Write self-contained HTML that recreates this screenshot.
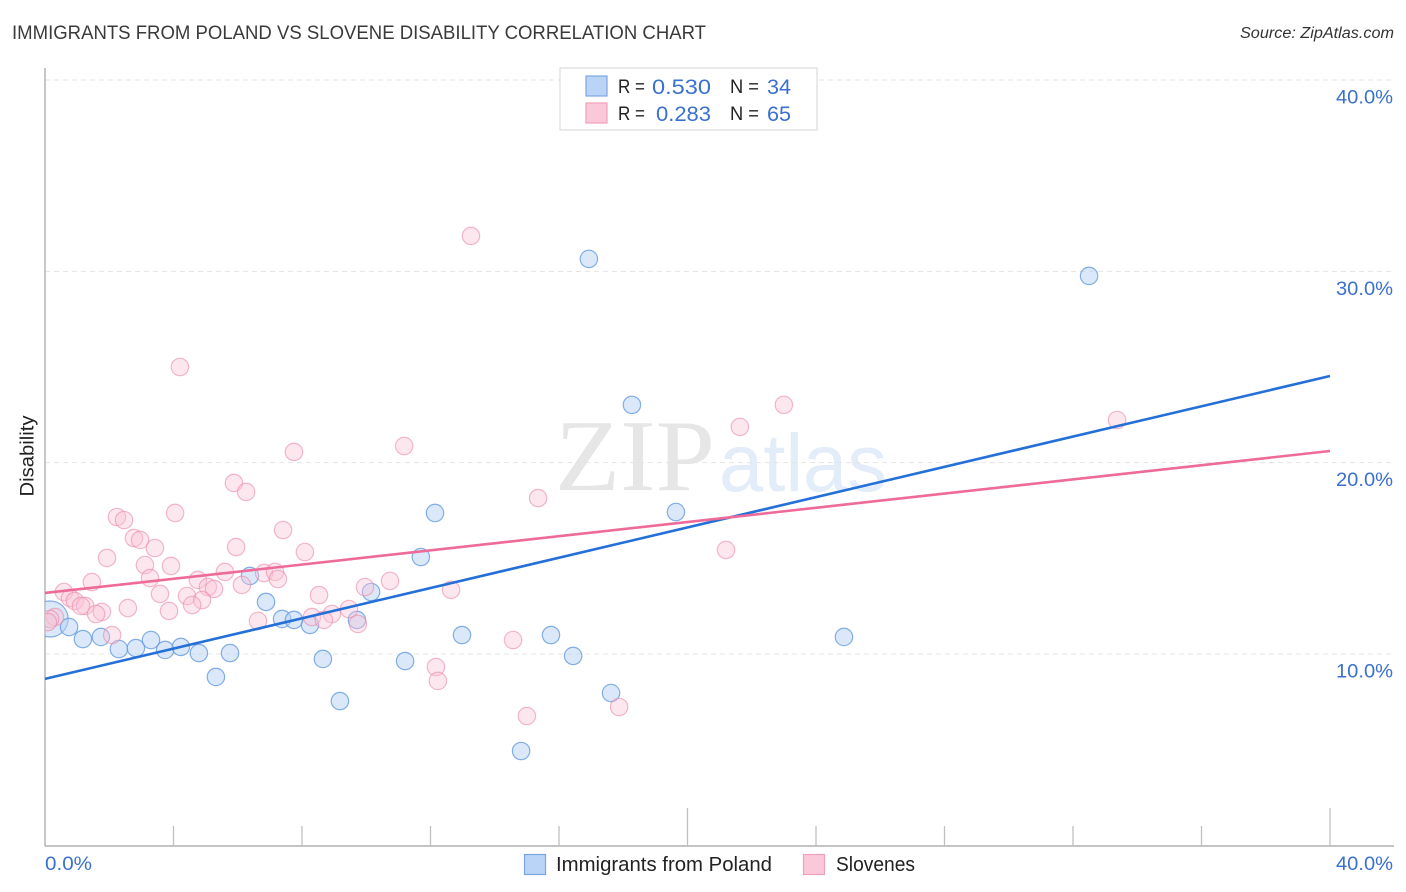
<!DOCTYPE html>
<html>
<head>
<meta charset="utf-8">
<title>Immigrants from Poland vs Slovene Disability Correlation Chart</title>
<style>
html,body{margin:0;padding:0;background:#fff;}
svg{display:block;font-family:"Liberation Sans",sans-serif;}
</style>
</head>
<body>
<svg id="chart" width="1406" height="892" viewBox="0 0 1406 892" xmlns="http://www.w3.org/2000/svg">
  <defs>
    <clipPath id="plot-clip"><rect x="45" y="60" width="1349" height="786"/></clipPath>
  </defs>
  <rect x="0" y="0" width="1406" height="892" fill="#ffffff"/>
  <text x="12" y="39" font-size="19" fill="#3a3a3a" textLength="694" lengthAdjust="spacingAndGlyphs">IMMIGRANTS FROM POLAND VS SLOVENE DISABILITY CORRELATION CHART</text>
  <text x="1394" y="38" font-size="15.5" font-style="italic" fill="#333333" text-anchor="end" textLength="154" lengthAdjust="spacingAndGlyphs">Source: ZipAtlas.com</text>
  <text x="555" y="490" font-family="'Liberation Serif',serif" font-size="102" fill="#e6e6e6" textLength="160" lengthAdjust="spacingAndGlyphs">ZIP</text>
  <text x="719" y="491" font-size="82" fill="#e3ecf9" textLength="168" lengthAdjust="spacingAndGlyphs">atlas</text>
  <g id="grid"></g>
  <g id="axes"></g>
  <text transform="translate(33.5,456) rotate(-90)" font-size="19" fill="#222222" text-anchor="middle" textLength="81" lengthAdjust="spacingAndGlyphs">Disability</text>
  <g id="points-poland"></g>
  <g id="points-slovene"></g>
  <g id="trends"></g>
  <g>
    <rect x="560" y="68" width="257" height="62" fill="#ffffff" stroke="#dddddd" stroke-width="1.2"/>
    <rect x="586" y="76" width="21" height="20" fill="#b9d4f7" stroke="#7aa6e0" stroke-width="1.2"/>
    <rect x="586" y="103" width="21" height="20" fill="#fbc8d9" stroke="#f0a0bb" stroke-width="1.2"/>
    <text x="618" y="93" font-size="19" fill="#222222" textLength="27" lengthAdjust="spacingAndGlyphs">R =</text>
    <text x="652" y="94" font-size="21" fill="#3a70cf" textLength="59" lengthAdjust="spacingAndGlyphs">0.530</text>
    <text x="730" y="93" font-size="19" fill="#222222" textLength="29" lengthAdjust="spacingAndGlyphs">N =</text>
    <text x="767" y="94" font-size="21" fill="#3a70cf" textLength="24" lengthAdjust="spacingAndGlyphs">34</text>
    <text x="618" y="120" font-size="19" fill="#222222" textLength="27" lengthAdjust="spacingAndGlyphs">R =</text>
    <text x="656" y="121" font-size="21" fill="#3a70cf" textLength="55" lengthAdjust="spacingAndGlyphs">0.283</text>
    <text x="730" y="120" font-size="19" fill="#222222" textLength="29" lengthAdjust="spacingAndGlyphs">N =</text>
    <text x="767" y="121" font-size="21" fill="#3a70cf" textLength="24" lengthAdjust="spacingAndGlyphs">65</text>
  </g>
  <g>
    <rect x="524.5" y="854.5" width="21" height="20" fill="#b9d4f7" stroke="#7aa6e0" stroke-width="1.2"/>
    <text x="556" y="871" font-size="20" fill="#222222" textLength="216" lengthAdjust="spacingAndGlyphs">Immigrants from Poland</text>
    <rect x="803.5" y="854.5" width="21" height="20" fill="#fbc8d9" stroke="#f0a0bb" stroke-width="1.2"/>
    <text x="836" y="871" font-size="20" fill="#222222" textLength="79" lengthAdjust="spacingAndGlyphs">Slovenes</text>
  </g>
</svg>
<script>
var yTickValues = [10, 20, 30, 40];
var yTickLabels = ["10.0%", "20.0%", "30.0%", "40.0%"];
var xTickValues = [4, 8, 12, 16, 20, 24, 28, 32, 36, 40];
var xTickMajor = [20, 40];
var xEndValues = [0, 40];
var xEndLabels = ["0.0%", "40.0%"];

var polandX = [0.16,0.75,1.18,1.74,2.30,2.83,3.30,3.74,4.23,4.79,5.32,5.76,6.38,6.88,7.38,7.75,8.25,8.65,9.18,9.71,10.15,11.21,11.70,12.14,12.98,14.82,15.75,16.44,16.93,17.62,18.27,19.64,24.87,32.50];
var polandY = [11.83,11.41,10.78,10.89,10.26,10.31,10.73,10.21,10.37,10.05,8.80,10.05,14.08,12.72,11.83,11.78,11.52,9.74,7.54,11.78,13.24,9.63,15.07,17.37,10.99,4.93,10.99,9.90,30.65,7.96,23.02,17.42,10.89,29.76];
var polandWeight = [3.4,1,1,1,1,1,1,1,1,1,1,1,1,1,1,1,1,1,1,1,1,1,1,1,1,1,1,1,1,1,1,1,1,1];

var sloveneX = [13.26,4.20,33.37,23.00,21.63,11.18,7.75,5.88,6.26,15.35,4.05,2.24,2.46,7.41,2.77,2.96,3.42,5.95,21.20,8.09,1.93,3.11,3.92,5.60,6.82,7.16,7.25,3.27,1.46,4.76,10.74,6.13,9.96,5.07,5.26,0.59,12.64,3.58,8.53,4.42,0.78,0.93,4.89,1.25,1.12,2.58,4.58,3.86,1.77,1.59,9.46,8.93,8.31,6.63,8.68,9.74,2.09,14.57,12.17,12.23,15.00,17.87,0.31,0.16,0.09];
var sloveneY = [31.85,25.00,22.23,23.02,21.87,20.87,20.56,18.94,18.47,18.15,17.37,17.16,17.00,16.48,16.06,15.96,15.54,15.59,15.44,15.33,15.02,14.65,14.60,14.29,14.23,14.29,13.92,13.97,13.76,13.87,13.82,13.61,13.50,13.50,13.40,13.24,13.35,13.14,13.08,13.03,12.93,12.77,12.82,12.51,12.51,12.40,12.56,12.25,12.20,12.09,12.35,12.09,11.93,11.73,11.78,11.57,10.99,10.73,9.32,8.59,6.76,7.23,11.93,11.83,11.67];

var trendX = [0, 40];
var polandTrend = [8.70, 24.53];
var sloveneTrend = [13.19, 20.61];

var NS = "http://www.w3.org/2000/svg";
var X0 = 45, X40 = 1330, Y10 = 654, Y40 = 80, AXIS_BOTTOM = 846, RIGHT = 1394;
function xScale(v) { return X0 + (v / 40) * (X40 - X0); }
function yScale(v) { return Y10 - ((v - 10) / 30) * (Y10 - Y40); }
function make(tag, attrs, parent) {
  var el = document.createElementNS(NS, tag);
  for (var k in attrs) { el.setAttribute(k, attrs[k]); }
  parent.appendChild(el);
  return el;
}

var grid = document.getElementById("grid");
var axes = document.getElementById("axes");

yTickValues.forEach(function (v, i) {
  var line = make("line", {x1: X0, x2: RIGHT, y1: yScale(v), y2: yScale(v), stroke: "#e4e4e4", "stroke-width": 1, "stroke-dasharray": "5 4"}, grid);
  
  
  var label = make("text", {x: 1336, y: yScale(v) + 23.5, "font-size": 19.5, fill: "#3a70cf", textLength: 57, lengthAdjust: "spacingAndGlyphs"}, axes);
  label.textContent = yTickLabels[i];
  
  
});

var yAxisLine = make("line", {x1: X0, x2: X0, y1: 68, y2: AXIS_BOTTOM, stroke: "#b0b0b0", "stroke-width": 1.4}, axes);


var xAxisLine = make("line", {x1: X0, x2: RIGHT, y1: AXIS_BOTTOM, y2: AXIS_BOTTOM, stroke: "#b0b0b0", "stroke-width": 1.4}, axes);



xTickValues.forEach(function (v) {
  var top = xTickMajor.indexOf(v) >= 0 ? 808 : 826;
  var tick = make("line", {x1: xScale(v), x2: xScale(v), y1: top, y2: AXIS_BOTTOM, stroke: "#c0c0c0", "stroke-width": 1.3}, axes);
  
  
});

xEndValues.forEach(function (v, i) {
  var label = make("text", {x: i === 0 ? xScale(v) : 1336, y: 870, "font-size": 19.5, fill: "#3a70cf", textLength: i === 0 ? 47 : 57, lengthAdjust: "spacingAndGlyphs"}, axes);
  label.textContent = xEndLabels[i];
  
  
});

var polandGroup = document.getElementById("points-poland");
polandX.forEach(function (v, i) {
  var w = polandWeight[i];
  var c = make("circle", {cx: xScale(v), cy: yScale(polandY[i]), r: w > 1 ? 18 : 8.7, fill: "#b5d1f5", "fill-opacity": 0.5, stroke: "#5e96dc", "stroke-opacity": 0.75, "stroke-width": 1.2, "clip-path": "url(#plot-clip)"}, polandGroup);
  
  
});

var sloveneGroup = document.getElementById("points-slovene");
sloveneX.forEach(function (v, i) {
  var c = make("circle", {cx: xScale(v), cy: yScale(sloveneY[i]), r: 8.7, fill: "#fbc3d6", "fill-opacity": 0.4, stroke: "#e98aa9", "stroke-opacity": 0.6, "stroke-width": 1.2, "clip-path": "url(#plot-clip)"}, sloveneGroup);
  
  
});

var trends = document.getElementById("trends");
var polandLine = make("line", {x1: xScale(trendX[0]), y1: yScale(polandTrend[0]), x2: xScale(trendX[1]), y2: yScale(polandTrend[1]), stroke: "#2470d8", "stroke-width": 2.6}, trends);


var sloveneLine = make("line", {x1: xScale(trendX[0]), y1: yScale(sloveneTrend[0]), x2: xScale(trendX[1]), y2: yScale(sloveneTrend[1]), stroke: "#ee6a98", "stroke-width": 2.6}, trends);


</script>
</body>
</html>
